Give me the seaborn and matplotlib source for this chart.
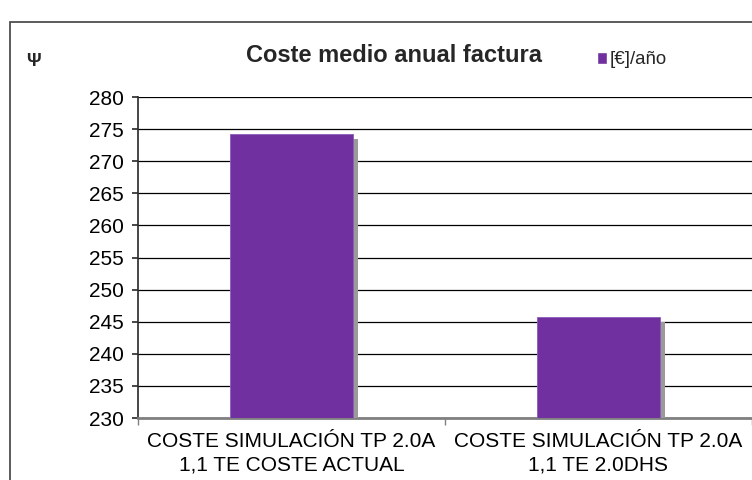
import matplotlib
matplotlib.use("Agg")
import matplotlib.pyplot as plt
import matplotlib.patheffects as pe
from matplotlib.patches import Rectangle, Patch
import seaborn as sns
import pandas as pd

categories = ["COSTE SIMULACIÓN TP 2.0A\n1,1 TE COSTE ACTUAL",
              "COSTE SIMULACIÓN TP 2.0A\n1,1 TE 2.0DHS"]
values = [274.3, 245.7]
yticks = list(range(230, 281, 5))
series_name = "[€]/año"

df = pd.DataFrame({"cat": categories, "val": values})

sns.set_theme(style="white")
plt.rcParams["font.family"] = ["Liberation Sans", "DejaVu Sans"]

fig = plt.figure(figsize=(7.52, 4.8), dpi=100)
ax = fig.add_axes([138 / 752, 62 / 480, 1 - 138 / 752, 321 / 480])

sns.barplot(data=df, x="cat", y="val", color="#7030A0", width=0.4,
            saturation=1, ax=ax, zorder=3)
for p in ax.patches:
    p.set_path_effects([pe.SimplePatchShadow(offset=(3.6, -3.6), shadow_rgbFace="#9a9a9a", alpha=1),
                        pe.Normal()])
    p.set_edgecolor("#8a5cb8")
    p.set_linewidth(0.6)

ax.set_ylim(230, 280)
ax.set_yticks(yticks)
ax.set_yticklabels([str(t) for t in yticks], fontsize=15, color="black")
ax.set_xticklabels(categories, fontsize=15, color="black", linespacing=1.3)
ax.set_xlabel("")
ax.set_ylabel("")
ax.yaxis.grid(True, color="black", linewidth=0.9, zorder=0)
ax.set_axisbelow(True)
for s in ["top", "right"]:
    ax.spines[s].set_visible(False)
ax.spines["left"].set_color("#303030")
ax.spines["bottom"].set_color("#808080")
ax.spines["bottom"].set_linewidth(2)
ax.tick_params(axis="y", length=4.5, left=True, color="#303030", pad=6)
ax.tick_params(axis="x", length=5, bottom=True, color="#808080", pad=10)
ax.set_xticks([-0.5, 0.5, 1.5], minor=True)
ax.tick_params(axis="x", which="minor", length=5, bottom=True, color="#808080")
ax.tick_params(axis="x", which="major", length=0)
ax.set_xlim(-0.5, 1.5)

fig.text(394 / 752, 1 - 56 / 480, "Coste medio anual factura", fontsize=17,
         fontweight="bold", ha="center", va="center")
fig.text(33 / 752, 1 - 62 / 480, "Ψ", fontsize=13, fontweight="bold",
         ha="center", va="center")
fig.legend(handles=[Patch(facecolor="#7030A0", label=series_name)],
           loc="center left", bbox_to_anchor=(597 / 752, 1 - 60 / 480),
           frameon=False, fontsize=13.4, handlelength=0.55, handleheight=0.55,
           handletextpad=0.15, borderpad=0, borderaxespad=0)

fig.patches.append(Rectangle((10 / 752, -0.1), 1.2, 1 - 22 / 480 + 0.1,
                             transform=fig.transFigure, fill=False,
                             edgecolor="#404040", linewidth=1.2))

fig.savefig("out.png", dpi=100)
